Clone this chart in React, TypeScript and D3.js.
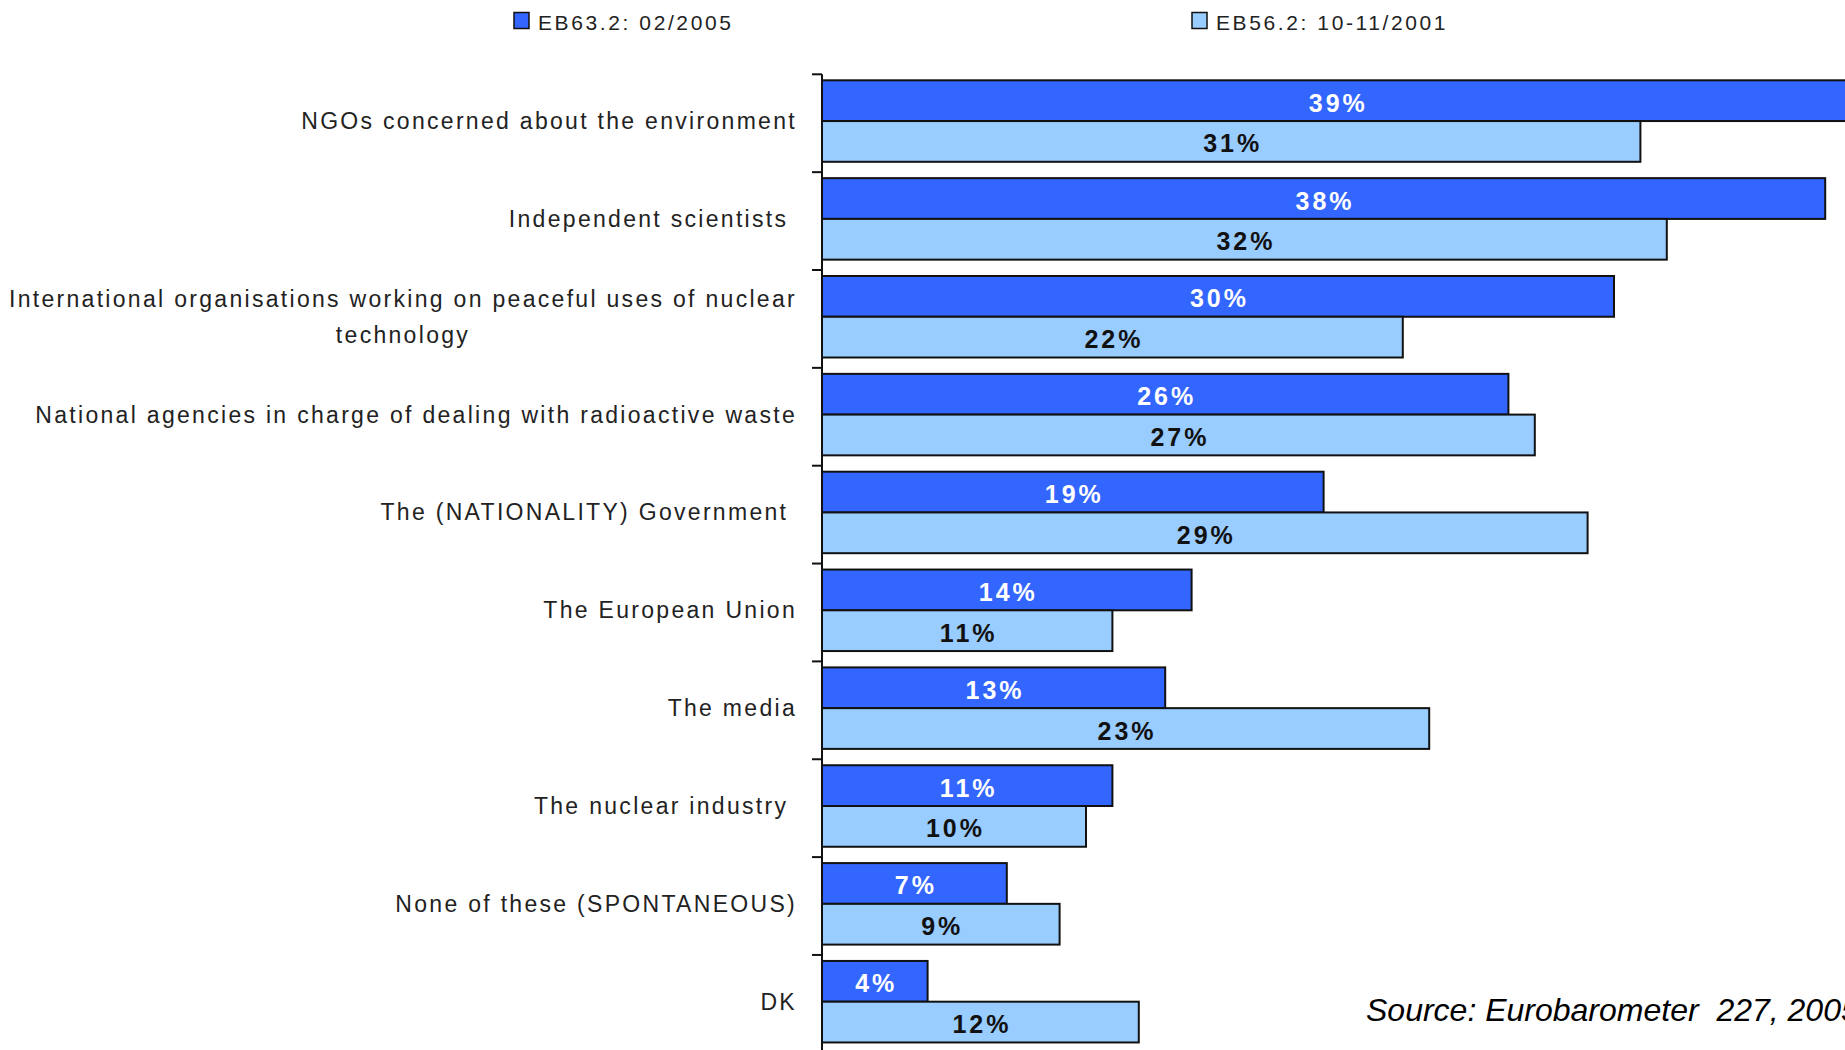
import React, { useEffect, useRef } from "react";
import * as d3 from "d3";

const categories = [
  "NGOs concerned about the environment",
  "Independent scientists ",
  "International organisations working on peaceful uses of nuclear\ntechnology",
  "National agencies in charge of dealing with radioactive waste",
  "The (NATIONALITY) Government ",
  "The European Union",
  "The media",
  "The nuclear industry ",
  "None of these (SPONTANEOUS)",
  "DK",
];
const seriesNames = ["EB63.2: 02/2005", "EB56.2: 10-11/2001"];
const eb63 = [39, 38, 30, 26, 19, 14, 13, 11, 7, 4];
const eb56 = [31, 32, 22, 27, 29, 11, 23, 10, 9, 12];
const sourceNote = "Source: Eurobarometer  227, 2005";

const W = 1845;
const H = 1050;
const FONT = "'Liberation Sans', Arial, Helvetica, sans-serif";
const colors = ["#3366FF", "#99CCFF"];
const labelColors = ["#ffffff", "#111111"];

export default function App() {
  const ref = useRef<SVGSVGElement | null>(null);

  useEffect(() => {
    const svg = d3.select(ref.current);
    svg.selectAll("*").remove();

    const x = d3.scaleLinear().domain([0, 40]).range([822, 822 + 40 * 26.4]);
    const y = d3.scaleBand<string>().domain(categories).range([74.3, 1052.8]);
    const inner = d3.scaleBand<string>().domain(seriesNames).range([6, 87.5]);
    const bw = inner.bandwidth();
    const values = [eb63, eb56];

    const g = svg.append("g");

    // bars
    categories.forEach((cat, i) => {
      seriesNames.forEach((s, si) => {
        const v = values[si][i];
        const y0 = (y(cat) as number) + (inner(s) as number);
        g.append("rect")
          .attr("x", x(0))
          .attr("y", y0)
          .attr("width", x(v) - x(0))
          .attr("height", bw)
          .attr("fill", colors[si])
          .attr("stroke", "#111")
          .attr("stroke-width", 2);
      });
    });

    // value labels
    categories.forEach((cat, i) => {
      seriesNames.forEach((s, si) => {
        const v = values[si][i];
        const y0 = (y(cat) as number) + (inner(s) as number);
        g.append("text")
          .attr("x", (x(0) + x(v)) / 2 + 1.5)
          .attr("y", y0 + bw / 2 + 2)
          .attr("text-anchor", "middle")
          .attr("dominant-baseline", "central")
          .attr("font-family", FONT)
          .attr("font-size", 25)
          .attr("font-weight", "bold")
          .attr("letter-spacing", 3)
          .attr("fill", labelColors[si])
          .text(`${v}%`);
      });
    });

    // axis
    const yTop = y.range()[0];
    const yBot = y.range()[1];
    g.append("line")
      .attr("x1", x(0))
      .attr("x2", x(0))
      .attr("y1", yTop)
      .attr("y2", yBot)
      .attr("stroke", "#111")
      .attr("stroke-width", 2);
    const tickYs = categories.map((c) => y(c) as number).concat([yBot]);
    tickYs.forEach((ty) => {
      g.append("line")
        .attr("x1", x(0) - 10)
        .attr("x2", x(0))
        .attr("y1", ty)
        .attr("y2", ty)
        .attr("stroke", "#111")
        .attr("stroke-width", 2);
    });

    // category labels
    const right = 797;
    const lh = 36.5;
    categories.forEach((cat) => {
      const lines = cat.split("\n");
      const cy = (y(cat) as number) + (inner.range()[0] + inner.range()[1]) / 2;
      const t = g
        .append("text")
        .attr("font-family", FONT)
        .attr("font-size", 23)
        .attr("letter-spacing", 2.3)
        .attr("fill", "#222")
        .attr("text-anchor", "middle")
        .style("white-space", "pre");
      const tspans = lines.map((ln, li) =>
        t
          .append("tspan")
          .attr("y", cy + (li - (lines.length - 1) / 2) * lh)
          .attr("dominant-baseline", "central")
          .text(ln)
      );
      let maxW = 0;
      tspans.forEach((ts) => {
        const n = ts.node() as SVGTSpanElement;
        maxW = Math.max(maxW, n.getComputedTextLength());
      });
      tspans.forEach((ts) => ts.attr("x", right - maxW / 2));
    });

    // legend
    const legendX = [514, 1192];
    seriesNames.forEach((s, si) => {
      g.append("rect")
        .attr("x", legendX[si])
        .attr("y", 12.5)
        .attr("width", 15)
        .attr("height", 16)
        .attr("fill", colors[si])
        .attr("stroke", "#111")
        .attr("stroke-width", 1.5);
      g.append("text")
        .attr("x", legendX[si] + 24)
        .attr("y", 29.5)
        .attr("font-family", FONT)
        .attr("font-size", 21)
        .attr("letter-spacing", 2.6)
        .attr("fill", "#222")
        .text(s);
    });

    // source
    g.append("text")
      .attr("x", 1366)
      .attr("y", 1021)
      .attr("font-family", FONT)
      .attr("font-size", 32)
      .attr("font-style", "italic")
      .attr("fill", "#000")
      .style("white-space", "pre")
      .text(sourceNote);
  }, []);

  return (
    <svg
      ref={ref}
      width={W}
      height={H}
      style={{ position: "absolute", left: 0, top: 0, background: "#fff" }}
    />
  );
}
